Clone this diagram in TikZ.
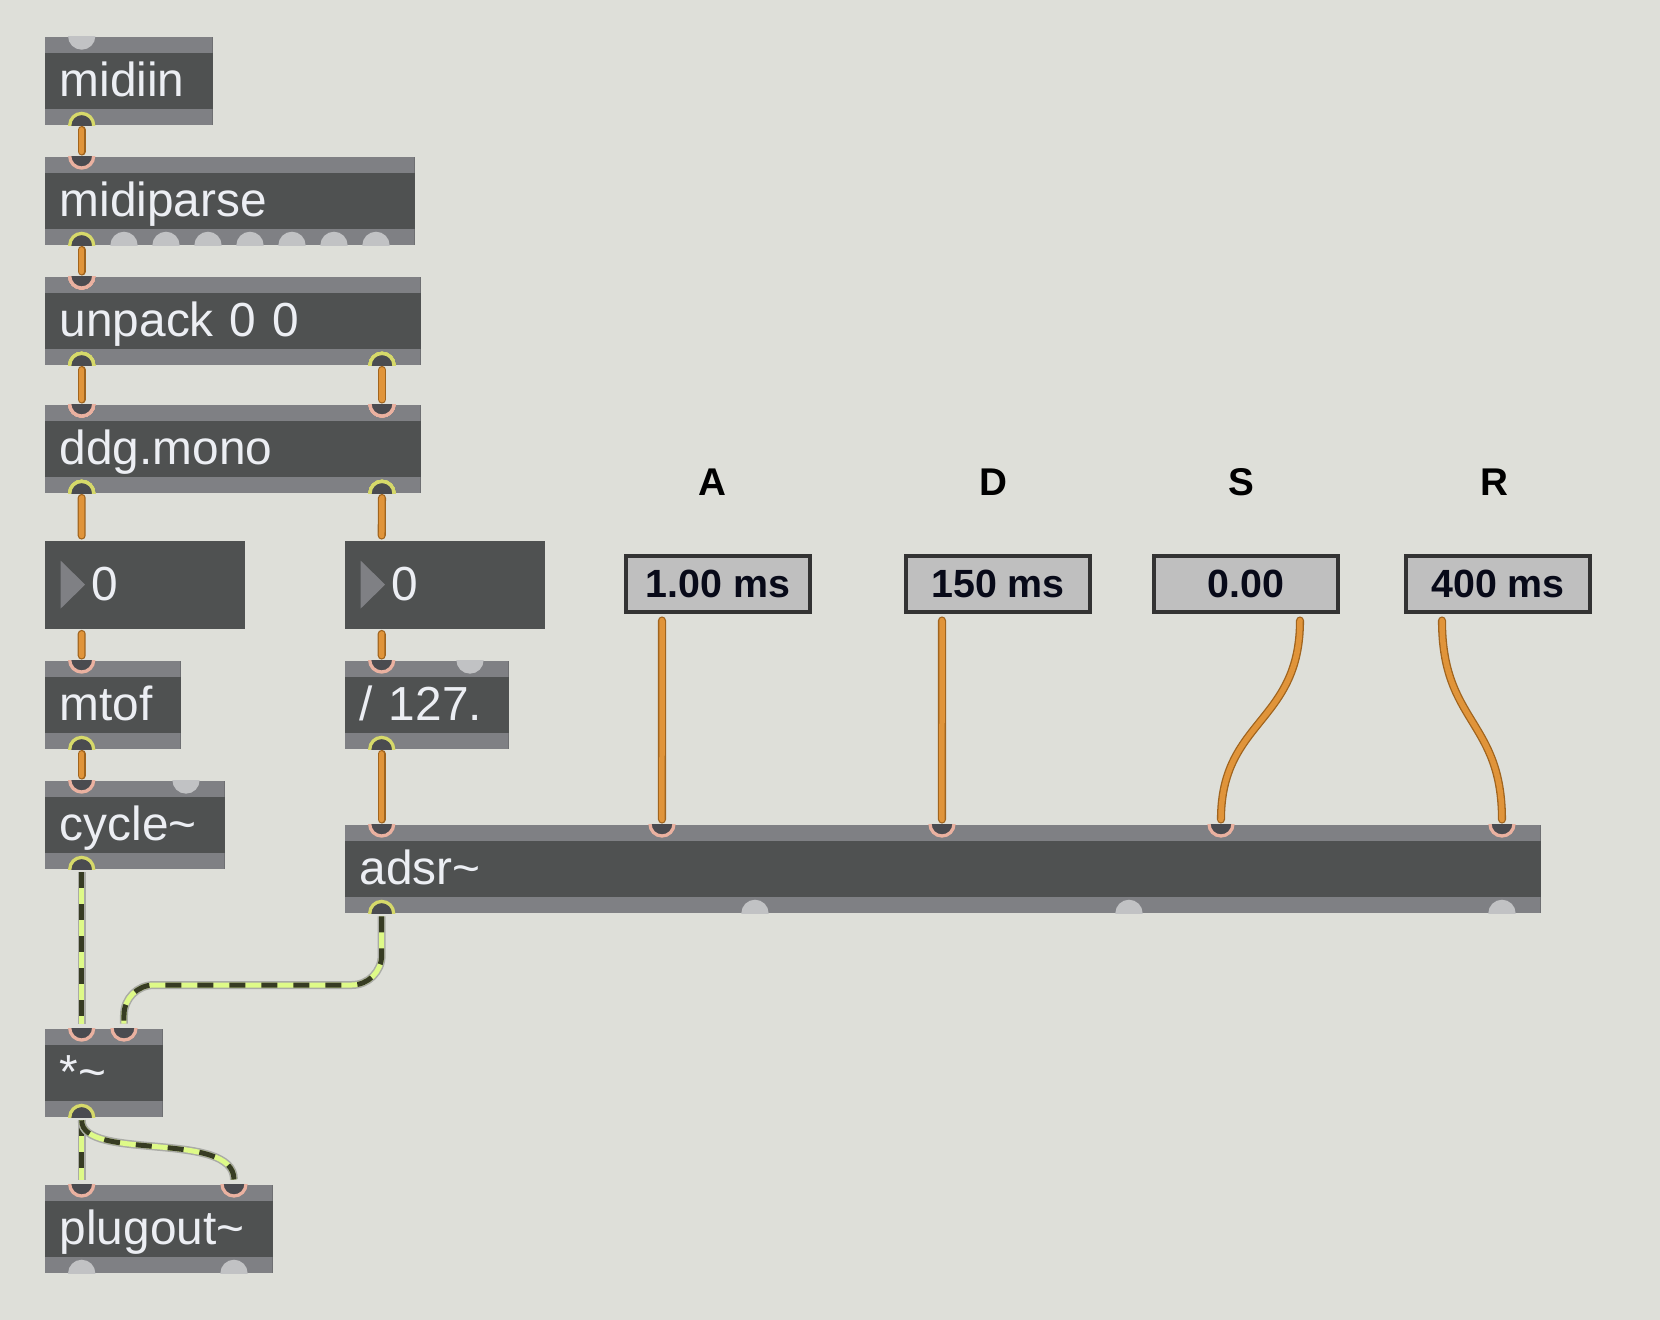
\documentclass[tikz,border=0pt]{standalone}
\usepackage{fontspec}
\setmainfont{Liberation Sans}
\usetikzlibrary{calc}

\definecolor{patchbg}{RGB}{222,223,217}
\definecolor{objbody}{RGB}{79,81,81}
\definecolor{objbar}{RGB}{127,128,132}
\definecolor{objtext}{RGB}{236,238,243}
\definecolor{portidle}{RGB}{193,194,196}
\definecolor{portdark}{RGB}{74,75,80}
\definecolor{outring}{RGB}{214,217,106}
\definecolor{inring}{RGB}{234,177,160}
\definecolor{cordfill}{RGB}{224,148,58}
\definecolor{cordedge}{RGB}{160,100,30}
\definecolor{sigedge}{RGB}{170,171,166}
\definecolor{siglight}{RGB}{222,250,136}
\definecolor{sigdark}{RGB}{55,60,35}
\definecolor{floatfill}{RGB}{191,191,191}
\definecolor{floatedge}{RGB}{51,51,51}
\definecolor{floattext}{RGB}{8,10,25}

% port: style, node, side, x offset (mm), name
\newcommand{\maxport}[5]{%
  \coordinate (#5) at ([xshift={(#4)*1mm}]#2.#3 west);
  \begin{scope}
    \clip (#2.north west) rectangle (#2.south east);
    \filldraw[#1] (#5) circle[radius=1.2mm];
  \end{scope}}

\begin{document}
\begin{tikzpicture}[
        x=0.1mm, y=-0.1mm,
        obj/.style={rectangle, fill=objbody, anchor=north west, inner xsep=1.5mm, inner ysep=0pt,
            minimum height=8.8mm, text width={#1-3mm}, align=left, text=objtext,
            font=\fontsize{13.6}{15}\selectfont, text height=4.4mm, text depth=1.2mm,
            path picture={
                \fill[objbar] (path picture bounding box.north west) rectangle ([yshift=-1.6mm]path picture bounding box.north east);
                \fill[objbar] (path picture bounding box.south west) rectangle ([yshift=1.6mm]path picture bounding box.south east);
            }},
        numbox/.style={rectangle, fill=objbody, anchor=north west, inner xsep=4.7mm, inner ysep=0pt,
            minimum height=8.8mm, text width={#1-9.4mm}, align=left, text=objtext,
            font=\fontsize{13.6}{15}\selectfont, text height=4.4mm, text depth=1.2mm,
            path picture={
                \fill[objbar] ([xshift=1.6mm,yshift=-2mm]path picture bounding box.north west) -- ++(2.44mm,-2.39mm) -- ++(-2.44mm,-2.39mm) -- cycle;
            }},
        flonum/.style={rectangle, draw=floatedge, line width=0.4mm, fill=floatfill, minimum width=18.4mm,
            minimum height=5.6mm, inner sep=0pt, text=floattext, font=\fontsize{11.2}{13}\bfseries\selectfont},
        envlabel/.style={inner sep=0pt, text=black, font=\fontsize{11}{13}\bfseries\selectfont},
        inport/.style={fill=portdark, draw=inring, line width=0.33mm},
        outport/.style={fill=portdark, draw=outring, line width=0.33mm},
        idleport/.style={fill=portidle, draw=portidle, line width=0.33mm},
        cord/.style={draw=cordedge, line width=0.13mm, double=cordfill, double distance=0.55mm,
            line cap=round, shorten <=0.45mm, shorten >=0.45mm},
        sig/.style={draw=sigedge, line width=0.8mm, shorten <=0.3mm, shorten >=0.45mm,
            postaction={draw=siglight, line width=0.5mm},
            postaction={draw=sigdark, line width=0.5mm, dash pattern=on 1.6mm off 1.6mm}}
    ]
        \fill[patchbg] (0,0) rectangle (1660,1320);
        \useasboundingbox (0,0) rectangle (1660,1320);

        % objects
        \node[obj=16.8mm] (midiin) at (44,36) {midiin};
        \node[obj=37mm] (midiparse) at (44,156) {midiparse};
        \node[obj=37.6mm] (unpack) at (44,276) {unpack 0 0};
        \node[obj=37.6mm] (mono) at (44,404) {ddg.mono};
        \node[numbox=20mm] (pitch) at (44,540) {0};
        \node[numbox=20mm] (velo) at (344,540) {0};
        \node[obj=13.6mm] (mtof) at (44,660) {mtof};
        \node[obj=16.4mm] (scale) at (344,660) {/ 127.};
        \node[obj=18mm] (osc) at (44,780) {cycle\textasciitilde};
        \node[obj=119.6mm] (env) at (344,824) {adsr\textasciitilde};
        \node[obj=11.8mm] (vca) at (44,1028) {*\textasciitilde};
        \node[obj=22.8mm] (dac) at (44,1184) {plugout\textasciitilde};

        % inlets and outlets
        \maxport{idleport}{midiin}{north}{3.77}{midiin-i1}
        \maxport{outport}{midiin}{south}{3.77}{midiin-o1}
        \maxport{inport}{midiparse}{north}{3.77}{midiparse-i1}
        \maxport{outport}{midiparse}{south}{3.77}{midiparse-o1}
        \foreach \k in {2,...,8}
            \maxport{idleport}{midiparse}{south}{3.8+(\k-1)*4.2}{midiparse-o\k}
        \maxport{inport}{unpack}{north}{3.77}{unpack-i1}
        \maxport{outport}{unpack}{south}{3.77}{unpack-o1}
        \maxport{outport}{unpack}{south}{33.8}{unpack-o2}
        \maxport{inport}{mono}{north}{3.77}{mono-i1}
        \maxport{inport}{mono}{north}{33.8}{mono-i2}
        \maxport{outport}{mono}{south}{3.77}{mono-o1}
        \maxport{outport}{mono}{south}{33.8}{mono-o2}
        \coordinate (pitch-i) at ([xshift=3.77mm]pitch.north west);
        \coordinate (pitch-o) at ([xshift=3.77mm]pitch.south west);
        \coordinate (velo-i) at ([xshift=3.77mm]velo.north west);
        \coordinate (velo-o) at ([xshift=3.77mm]velo.south west);
        \maxport{inport}{mtof}{north}{3.77}{mtof-i1}
        \maxport{outport}{mtof}{south}{3.77}{mtof-o1}
        \maxport{inport}{scale}{north}{3.77}{scale-i1}
        \maxport{idleport}{scale}{north}{12.6}{scale-i2}
        \maxport{outport}{scale}{south}{3.77}{scale-o1}
        \maxport{inport}{osc}{north}{3.77}{osc-i1}
        \maxport{idleport}{osc}{north}{14.2}{osc-i2}
        \maxport{outport}{osc}{south}{3.77}{osc-o1}
        \maxport{inport}{env}{north}{3.77}{env-i1}
        \maxport{inport}{env}{north}{31.8}{env-i2}
        \maxport{inport}{env}{north}{59.8}{env-i3}
        \maxport{inport}{env}{north}{87.7}{env-i4}
        \maxport{inport}{env}{north}{115.8}{env-i5}
        \maxport{outport}{env}{south}{3.77}{env-o1}
        \maxport{idleport}{env}{south}{41.1}{env-o2}
        \maxport{idleport}{env}{south}{78.5}{env-o3}
        \maxport{idleport}{env}{south}{115.8}{env-o4}
        \maxport{inport}{vca}{north}{3.77}{vca-i1}
        \maxport{inport}{vca}{north}{8.0}{vca-i2}
        \maxport{outport}{vca}{south}{3.77}{vca-o1}
        \maxport{inport}{dac}{north}{3.77}{dac-i1}
        \maxport{inport}{dac}{north}{19.0}{dac-i2}
        \maxport{idleport}{dac}{south}{3.77}{dac-o1}
        \maxport{idleport}{dac}{south}{19.0}{dac-o2}

        % envelope settings
        \node[envlabel] (attlabel) at (712,482) {A};
        \node[envlabel] (declabel) at (993,482) {D};
        \node[envlabel] (suslabel) at (1241,482) {S};
        \node[envlabel] (rellabel) at (1494,482) {R};
        \node[flonum] (att) at (718,584) {1.00 ms};
        \node[flonum] (dec) at (998,584) {150 ms};
        \node[flonum] (sus) at (1246,584) {0.00};
        \node[flonum] (rel) at (1498,584) {400 ms};
        \coordinate (att-o) at ([xshift=-5.6mm,yshift=-0.2mm]att.south);
        \coordinate (dec-o) at ([xshift=-5.6mm,yshift=-0.2mm]dec.south);
        \coordinate (sus-o) at ([xshift=5.4mm,yshift=-0.2mm]sus.south);
        \coordinate (rel-o) at ([xshift=-5.6mm,yshift=-0.2mm]rel.south);

        % control cords
        \draw[cord] (midiin-o1) -- (midiparse-i1);
        \draw[cord] (midiparse-o1) -- (unpack-i1);
        \draw[cord] (unpack-o1) -- (mono-i1);
        \draw[cord] (unpack-o2) -- (mono-i2);
        \draw[cord] (mono-o1) -- (pitch-i);
        \draw[cord] (mono-o2) -- (velo-i);
        \draw[cord] (pitch-o) -- (mtof-i1);
        \draw[cord] (velo-o) -- (scale-i1);
        \draw[cord] (mtof-o1) -- (osc-i1);
        \draw[cord] (scale-o1) -- (env-i1);
        \draw[cord] (att-o) -- (env-i2);
        \draw[cord] (dec-o) -- (env-i3);
        \draw[cord] (sus-o) .. controls ([yshift=-10.7mm]sus-o) and ([yshift=10.4mm]env-i4) .. (env-i4);
        \draw[cord] (rel-o) .. controls ([yshift=-10.7mm]rel-o) and ([yshift=10.4mm]env-i5) .. (env-i5);

        % signal cords
        \draw[sig] (osc-o1) -- (vca-i1);
        \draw[sig, rounded corners=3mm] (env-o1) |- ([yshift=4.3mm]vca-i2) -- (vca-i2);
        \draw[sig] (vca-o1) -- (dac-i1);
        \draw[sig] (vca-o1) .. controls ([yshift=-4.4mm]vca-o1) and ([yshift=5.4mm]dac-i2) .. (dac-i2);
\end{tikzpicture}
\end{document}
